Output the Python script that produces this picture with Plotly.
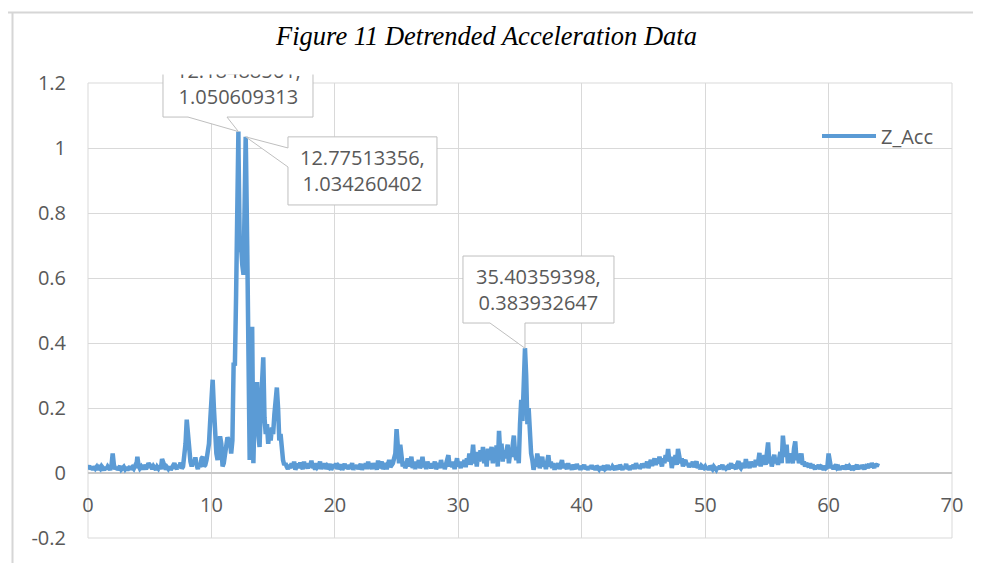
import plotly.graph_objects as go

# ---------------- data ----------------
FREQ_START = 0.0
FREQ_STEP = 0.1

z_acc_00_10 = [
    0.015, 0.022, 0.012, 0.018, 0.010, 0.020, 0.014, 0.019, 0.011, 0.017,
    0.013, 0.021, 0.016, 0.009, 0.018, 0.012, 0.020, 0.015, 0.010, 0.022,
    0.060, 0.025, 0.012, 0.018, 0.010, 0.016, 0.021, 0.011, 0.014, 0.019,
    0.012, 0.018, 0.009, 0.015, 0.020, 0.011, 0.017, 0.013, 0.021, 0.016,
    0.050, 0.022, 0.014, 0.019, 0.011, 0.024, 0.018, 0.012, 0.020, 0.030,
    0.025, 0.018, 0.013, 0.021, 0.016, 0.010, 0.019, 0.014, 0.022, 0.012,
    0.043, 0.030, 0.015, 0.011, 0.018, 0.013, 0.020, 0.010, 0.016, 0.022,
    0.030, 0.018, 0.012, 0.025, 0.016, 0.032, 0.014, 0.020, 0.045, 0.090,
    0.164, 0.120, 0.050, 0.035, 0.020, 0.040, 0.030, 0.048, 0.025, 0.012,
    0.030, 0.018, 0.045, 0.050, 0.020, 0.025, 0.040, 0.070, 0.090, 0.160,
]
z_acc_10_20 = [
    0.230, 0.287, 0.200, 0.080, 0.060, 0.040, 0.075, 0.113, 0.090, 0.020,
    0.030, 0.060, 0.085, 0.110, 0.100, 0.100, 0.060, 0.100, 0.340, 0.330,
    0.550, 0.850, 0.980, 0.680, 0.700, 0.640, 0.610, 0.850, 0.980, 0.700,
    0.410, 0.040, 0.380, 0.450, 0.030, 0.200, 0.120, 0.280, 0.120, 0.080,
    0.200, 0.300, 0.356, 0.170, 0.120, 0.150, 0.090, 0.130, 0.100, 0.140,
    0.120, 0.180, 0.220, 0.263, 0.200, 0.100, 0.120, 0.050, 0.040, 0.025,
    0.030, 0.020, 0.012, 0.025, 0.015, 0.030, 0.018, 0.035, 0.010, 0.022,
    0.028, 0.015, 0.032, 0.020, 0.012, 0.035, 0.018, 0.025, 0.014, 0.030,
    0.020, 0.038, 0.015, 0.025, 0.010, 0.030, 0.018, 0.022, 0.035, 0.012,
    0.024, 0.016, 0.030, 0.012, 0.022, 0.018, 0.028, 0.010, 0.020, 0.026,
]
z_acc_20_30 = [
    0.015, 0.030, 0.012, 0.022, 0.018, 0.026, 0.010, 0.020, 0.028, 0.014,
    0.022, 0.012, 0.025, 0.018, 0.030, 0.010, 0.020, 0.015, 0.024, 0.012,
    0.018, 0.028, 0.010, 0.022, 0.015, 0.030, 0.012, 0.035, 0.018, 0.024,
    0.012, 0.030, 0.018, 0.025, 0.010, 0.038, 0.015, 0.022, 0.035, 0.012,
    0.020, 0.030, 0.012, 0.028, 0.040, 0.018, 0.025, 0.030, 0.045, 0.060,
    0.135, 0.060, 0.030, 0.087, 0.040, 0.020, 0.035, 0.015, 0.025, 0.045,
    0.020, 0.030, 0.050, 0.015, 0.028, 0.012, 0.035, 0.020, 0.040, 0.015,
    0.025, 0.050, 0.018, 0.030, 0.012, 0.035, 0.020, 0.028, 0.014, 0.030,
    0.020, 0.035, 0.012, 0.025, 0.030, 0.015, 0.040, 0.020, 0.028, 0.012,
    0.030, 0.040, 0.055, 0.020, 0.030, 0.018, 0.035, 0.012, 0.028, 0.045,
]
z_acc_30_40 = [
    0.020, 0.030, 0.015, 0.035, 0.025, 0.040, 0.018, 0.045, 0.030, 0.060,
    0.025, 0.045, 0.087, 0.030, 0.050, 0.020, 0.065, 0.035, 0.070, 0.040,
    0.080, 0.030, 0.055, 0.020, 0.075, 0.040, 0.060, 0.080, 0.030, 0.065,
    0.040, 0.085, 0.020, 0.130, 0.060, 0.090, 0.035, 0.070, 0.045, 0.060,
    0.087, 0.030, 0.060, 0.050, 0.090, 0.115, 0.060, 0.040, 0.080, 0.030,
    0.150, 0.225, 0.160, 0.250, 0.340, 0.300, 0.150, 0.200, 0.120, 0.060,
    0.040, 0.010, 0.030, 0.020, 0.060, 0.040, 0.015, 0.030, 0.050, 0.020,
    0.030, 0.012, 0.040, 0.055, 0.020, 0.035, 0.015, 0.030, 0.010, 0.025,
    0.018, 0.030, 0.012, 0.025, 0.040, 0.015, 0.028, 0.020, 0.012, 0.030,
    0.015, 0.022, 0.010, 0.025, 0.018, 0.012, 0.028, 0.015, 0.020, 0.010,
]
z_acc_40_50 = [
    0.022, 0.015, 0.025, 0.012, 0.018, 0.010, 0.020, 0.014, 0.024, 0.012,
    0.018, 0.010, 0.022, 0.015, 0.012, 0.020, 0.010, 0.016, 0.022, 0.012,
    0.015, 0.024, 0.010, 0.018, 0.012, 0.020, 0.014, 0.010, 0.022, 0.016,
    0.012, 0.025, 0.015, 0.010, 0.020, 0.014, 0.028, 0.012, 0.018, 0.010,
    0.022, 0.015, 0.025, 0.012, 0.030, 0.018, 0.024, 0.014, 0.020, 0.028,
    0.016, 0.030, 0.020, 0.035, 0.015, 0.028, 0.040, 0.022, 0.032, 0.045,
    0.025, 0.040, 0.030, 0.050, 0.035, 0.020, 0.045, 0.030, 0.055, 0.040,
    0.074, 0.035, 0.050, 0.015, 0.045, 0.030, 0.055, 0.025, 0.074, 0.040,
    0.030, 0.045, 0.020, 0.035, 0.040, 0.025, 0.030, 0.018, 0.028, 0.022,
    0.035, 0.018, 0.030, 0.036, 0.015, 0.025, 0.012, 0.022, 0.018, 0.015,
]
z_acc_50_60 = [
    0.020, 0.012, 0.018, 0.010, 0.022, 0.015, 0.012, 0.020, 0.014, 0.010,
    0.018, 0.012, 0.022, 0.015, 0.025, 0.010, 0.020, 0.014, 0.018, 0.012,
    0.020, 0.030, 0.015, 0.025, 0.018, 0.012, 0.028, 0.036, 0.020, 0.015,
    0.022, 0.030, 0.015, 0.043, 0.020, 0.028, 0.015, 0.035, 0.022, 0.030,
    0.018, 0.040, 0.025, 0.035, 0.062, 0.020, 0.045, 0.030, 0.055, 0.025,
    0.060, 0.094, 0.030, 0.050, 0.020, 0.040, 0.056, 0.030, 0.045, 0.025,
    0.040, 0.065, 0.030, 0.115, 0.070, 0.050, 0.087, 0.030, 0.060, 0.040,
    0.050, 0.030, 0.075, 0.097, 0.040, 0.060, 0.030, 0.050, 0.060, 0.025,
    0.035, 0.020, 0.030, 0.025, 0.018, 0.030, 0.015, 0.025, 0.020, 0.012,
    0.022, 0.015, 0.025, 0.012, 0.020, 0.018, 0.010, 0.022, 0.015, 0.018,
]
z_acc_60_64 = [
    0.060, 0.030, 0.015, 0.022, 0.012, 0.020, 0.025, 0.015, 0.018, 0.010,
    0.020, 0.014, 0.022, 0.012, 0.018, 0.025, 0.012, 0.020, 0.015, 0.010,
    0.022, 0.015, 0.018, 0.025, 0.012, 0.020, 0.014, 0.024, 0.018, 0.012,
    0.020, 0.025, 0.015, 0.028, 0.018, 0.030, 0.022, 0.016, 0.028, 0.020,
    0.030,
]

# labelled peaks (from the data labels)
peak_freq = [12.18488561, 12.77513356, 35.40359398]
peak_acc = [1.050609313, 1.034260402, 0.383932647]

series_name = "Z_Acc"
title_text = "Figure 11 Detrended Acceleration Data"

x_range = [0, 70]
x_tickvals = [0, 10, 20, 30, 40, 50, 60, 70]
x_ticktext = ["0", "10", "20", "30", "40", "50", "60", "70"]
y_range = [-0.2, 1.2]
y_tickvals = [-0.2, 0, 0.2, 0.4, 0.6, 0.8, 1.0, 1.2]
y_ticktext = ["-0.2", "0", "0.2", "0.4", "0.6", "0.8", "1", "1.2"]

# ---------------- build series ----------------
z_acc = (z_acc_00_10 + z_acc_10_20 + z_acc_20_30 + z_acc_30_40
         + z_acc_40_50 + z_acc_50_60 + z_acc_60_64)
freq = [round(FREQ_START + i * FREQ_STEP, 4) for i in range(len(z_acc))]
pairs = sorted(list(zip(freq, z_acc)) + list(zip(peak_freq, peak_acc)))
xs = [p[0] for p in pairs]
ys = [p[1] for p in pairs]

# ---------------- layout geometry ----------------
PAGE_OFF = 8                      # default body margin of the html page
W, H = 981 - PAGE_OFF, 563 - PAGE_OFF
M_L, M_R, M_T, M_B = 80, 29, 75, 25
PW, PH = W - M_L - M_R, H - M_T - M_B

def paper_x(px):                  # px: position in the browser window
    return (px - PAGE_OFF - M_L) / PW

def paper_y(py):
    return (H - M_B - (py - PAGE_OFF)) / PH

def dom_x(v):
    return (v - x_range[0]) / (x_range[1] - x_range[0])

def dom_y(v):
    return (v - y_range[0]) / (y_range[1] - y_range[0])

GRID = "#d9d9d9"
TXT = "#595959"
LINE_BLUE = "#5b9bd5"
FONT = "Open Sans"
FS = 20

fig = go.Figure()
fig.add_trace(go.Scatter(
    x=xs, y=ys, mode="lines", name=series_name,
    line=dict(color=LINE_BLUE, width=4.5), showlegend=False,
))

# callout geometry: pixel offsets relative to the labelled point (dx right, dy up)
callouts = [
    dict(path="M 0,0 L -11.4,14.5 L 74.6,14.5 L 74.6,82.5 L -75.4,82.5 L -75.4,14.5 L -50.4,14.5 Z",
         ax=-0.4, ay=-48.5),
    dict(path="M 0,0 L 42.3,-11.1 L 42.3,0 L 191.3,0 L 191.3,-68.1 L 42.3,-68.1 L 42.3,-30.1 Z",
         ax=116.8, ay=34.1),
    dict(path="M 0,0 L 0,25.2 L 89,25.2 L 89,92.2 L -62,92.2 L -62,25.2 L -35,25.2 Z",
         ax=13.5, ay=-58.7),
]

shapes = [
    # plot-area border
    dict(type="rect", xref="x domain", yref="y domain", x0=0, x1=1, y0=0, y1=1,
         line=dict(color=GRID, width=1), layer="below"),
    # page frame lines
    dict(type="line", xref="paper", yref="paper", x0=paper_x(5), x1=paper_x(985),
         y0=paper_y(12.5), y1=paper_y(12.5), line=dict(color="#d6d6d6", width=2)),
    dict(type="line", xref="paper", yref="paper", x0=paper_x(12.5), x1=paper_x(12.5),
         y0=paper_y(12.5), y1=paper_y(570), line=dict(color="#d6d6d6", width=2)),
    # manual legend line
    dict(type="line", xref="paper", yref="paper", x0=paper_x(822), x1=paper_x(876),
         y0=paper_y(136), y1=paper_y(136), line=dict(color=LINE_BLUE, width=4)),
]
annotations = []
for fx, fy, c in zip(peak_freq, peak_acc, callouts):
    shapes.append(dict(
        type="path", xref="x domain", yref="y domain",
        xsizemode="pixel", ysizemode="pixel",
        xanchor=dom_x(fx), yanchor=dom_y(fy), path=c["path"],
        fillcolor="white", line=dict(color="#bfbfbf", width=1), layer="above",
    ))
    annotations.append(dict(
        x=fx, y=fy, xref="x", yref="y", showarrow=True,
        arrowcolor="rgba(0,0,0,0)", arrowwidth=0.1, ax=c["ax"], ay=c["ay"],
        text=f"{fx},<br>{fy}", font=dict(family=FONT, size=FS, color=TXT),
        align="center",
    ))

# mask (the chart area clips the first callout at its top)
annotations.append(dict(
    xref="paper", yref="paper", x=paper_x(238), y=paper_y(60), showarrow=False,
    text=" ", width=170, height=28, bgcolor="white", borderpad=0,
    xanchor="center", yanchor="middle",
))
# title
annotations.append(dict(
    xref="paper", yref="paper", x=paper_x(486), y=paper_y(36), showarrow=False,
    text=f"<i>{title_text}</i>", xanchor="center", yanchor="middle",
    font=dict(family="Liberation Serif", size=26.5, color="#000000"),
))
# legend text
annotations.append(dict(
    xref="paper", yref="paper", x=paper_x(879), y=paper_y(136), showarrow=False,
    text=series_name, xanchor="left", yanchor="middle",
    font=dict(family=FONT, size=FS, color=TXT),
))

fig.update_layout(
    width=W, height=H,
    margin=dict(l=M_L, r=M_R, t=M_T, b=M_B, pad=0),
    paper_bgcolor="white", plot_bgcolor="white",
    showlegend=False,
    shapes=shapes, annotations=annotations,
    xaxis=dict(
        range=x_range, tickvals=x_tickvals, ticktext=x_ticktext,
        showgrid=True, gridcolor=GRID, gridwidth=1, zeroline=False,
        showline=False, ticks="", anchor="free", position=dom_y(0),
        ticklabelstandoff=18,
        tickfont=dict(family=FONT, size=FS, color=TXT),
    ),
    yaxis=dict(
        range=y_range, tickvals=y_tickvals, ticktext=y_ticktext,
        showgrid=True, gridcolor=GRID, gridwidth=1,
        zeroline=True, zerolinecolor="#c8c8c8", zerolinewidth=1.5,
        showline=False, ticks="", ticklabelstandoff=21,
        tickfont=dict(family=FONT, size=FS, color=TXT),
    ),
)

fig.write_html("out.html")
